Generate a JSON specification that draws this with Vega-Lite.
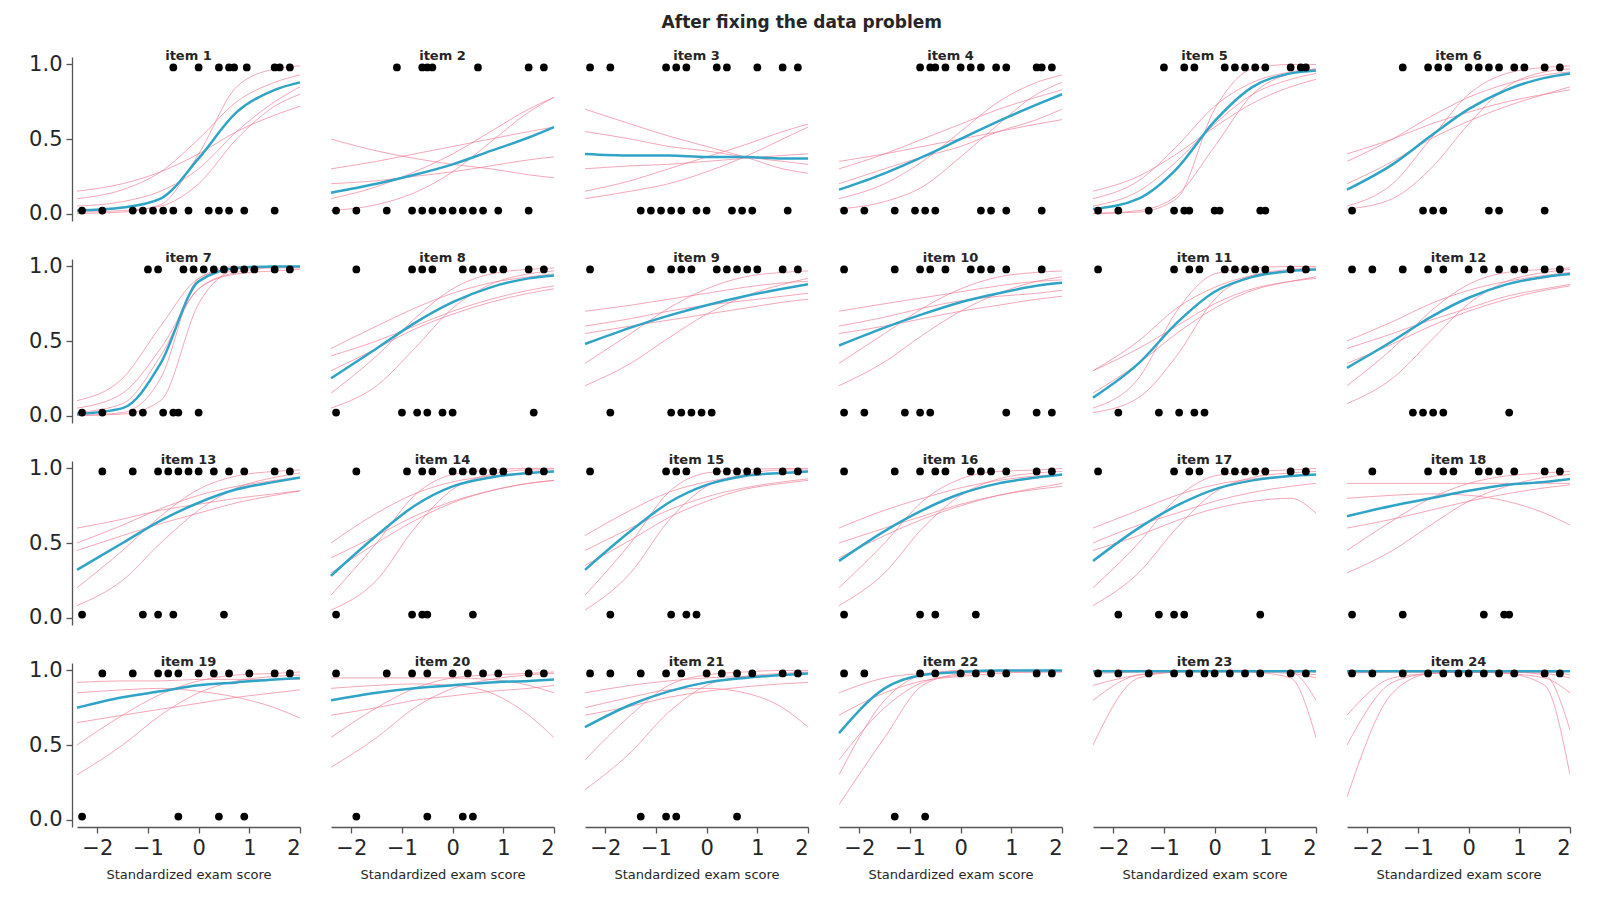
{
  "$schema": "https://vega.github.io/schema/vega-lite/v6.json",
  "title": {"text": "After fixing the data problem", "fontSize": 17, "fontWeight": "bold", "font": "DejaVu Sans", "color": "#262626", "anchor": "middle", "offset": 18},
  "background": "white",
  "padding": {"left": 28, "top": 14, "right": 5, "bottom": 5},
  "config": {
    "view": {"stroke": null},
    "font": "DejaVu Sans",
    "axis": {"grid": false, "domainColor": "#555", "domainWidth": 1.3, "tickColor": "#555", "tickWidth": 1.3, "labelFontSize": 21, "labelColor": "#262626", "tickSize": 6, "labelPadding": 4, "titleFontWeight": "normal", "titleFontSize": 13, "titleColor": "#262626", "titlePadding": 10},
    "header": {"labelFontSize": 13, "labelFontWeight": "bold", "labelColor": "#262626", "labelPadding": -6}
  },
  "data": {"values": [
    {"i":1,"x":-2.4,"m":0.02,"a":0.1,"b":0.01,"c":0.15,"d":0.0,"e":0.05},
    {"i":1,"x":-1.5,"m":0.04,"a":0.16,"b":0.02,"c":0.2,"d":0.01,"e":0.08},
    {"i":1,"x":-0.75,"m":0.1,"a":0.28,"b":0.05,"c":0.28,"d":0.06,"e":0.15},
    {"i":1,"x":0,"m":0.37,"a":0.5,"b":0.2,"c":0.4,"d":0.4,"e":0.3},
    {"i":1,"x":0.75,"m":0.68,"a":0.75,"b":0.5,"c":0.55,"d":0.85,"e":0.55},
    {"i":1,"x":1.5,"m":0.83,"a":0.88,"b":0.72,"c":0.66,"d":0.97,"e":0.75},
    {"i":1,"x":2,"m":0.88,"a":0.93,"b":0.8,"c":0.72,"d":0.99,"e":0.85},
    {"i":2,"x":-2.4,"m":0.14,"a":0.3,"b":0.02,"c":0.2,"d":0.1,"e":0.5},
    {"i":2,"x":-1.5,"m":0.2,"a":0.35,"b":0.06,"c":0.22,"d":0.18,"e":0.42},
    {"i":2,"x":-0.75,"m":0.26,"a":0.4,"b":0.14,"c":0.25,"d":0.28,"e":0.37},
    {"i":2,"x":0,"m":0.33,"a":0.45,"b":0.28,"c":0.28,"d":0.4,"e":0.33},
    {"i":2,"x":0.75,"m":0.42,"a":0.5,"b":0.48,"c":0.32,"d":0.55,"e":0.3},
    {"i":2,"x":1.5,"m":0.51,"a":0.55,"b":0.68,"c":0.36,"d":0.7,"e":0.26},
    {"i":2,"x":2,"m":0.58,"a":0.58,"b":0.78,"c":0.38,"d":0.78,"e":0.24},
    {"i":3,"x":-2.4,"m":0.4,"a":0.7,"b":0.15,"c":0.3,"d":0.55,"e":0.1},
    {"i":3,"x":-1.5,"m":0.39,"a":0.6,"b":0.22,"c":0.32,"d":0.5,"e":0.15},
    {"i":3,"x":-0.75,"m":0.39,"a":0.52,"b":0.3,"c":0.33,"d":0.45,"e":0.2},
    {"i":3,"x":0,"m":0.38,"a":0.45,"b":0.38,"c":0.35,"d":0.42,"e":0.28},
    {"i":3,"x":0.75,"m":0.38,"a":0.38,"b":0.46,"c":0.37,"d":0.38,"e":0.38},
    {"i":3,"x":1.5,"m":0.37,"a":0.3,"b":0.55,"c":0.39,"d":0.35,"e":0.5},
    {"i":3,"x":2,"m":0.37,"a":0.27,"b":0.6,"c":0.4,"d":0.33,"e":0.58},
    {"i":4,"x":-2.4,"m":0.16,"a":0.3,"b":0.03,"c":0.35,"d":0.1,"e":0.2},
    {"i":4,"x":-1.5,"m":0.27,"a":0.4,"b":0.08,"c":0.4,"d":0.2,"e":0.3},
    {"i":4,"x":-0.75,"m":0.38,"a":0.5,"b":0.18,"c":0.45,"d":0.35,"e":0.38},
    {"i":4,"x":0,"m":0.5,"a":0.6,"b":0.38,"c":0.5,"d":0.55,"e":0.45},
    {"i":4,"x":0.75,"m":0.62,"a":0.7,"b":0.6,"c":0.55,"d":0.75,"e":0.55},
    {"i":4,"x":1.5,"m":0.73,"a":0.78,"b":0.8,"c":0.6,"d":0.88,"e":0.63},
    {"i":4,"x":2,"m":0.8,"a":0.83,"b":0.88,"c":0.63,"d":0.93,"e":0.7},
    {"i":5,"x":-2.4,"m":0.03,"a":0.1,"b":0.0,"c":0.15,"d":0.0,"e":0.05},
    {"i":5,"x":-1.5,"m":0.1,"a":0.22,"b":0.02,"c":0.25,"d":0.01,"e":0.15},
    {"i":5,"x":-0.75,"m":0.3,"a":0.45,"b":0.12,"c":0.4,"d":0.1,"e":0.35},
    {"i":5,"x":0,"m":0.62,"a":0.72,"b":0.45,"c":0.58,"d":0.7,"e":0.6},
    {"i":5,"x":0.75,"m":0.85,"a":0.88,"b":0.8,"c":0.74,"d":0.97,"e":0.8},
    {"i":5,"x":1.5,"m":0.94,"a":0.95,"b":0.94,"c":0.85,"d":1,"e":0.9},
    {"i":5,"x":2,"m":0.96,"a":0.97,"b":0.97,"c":0.9,"d":1,"e":0.94},
    {"i":6,"x":-2.4,"m":0.16,"a":0.35,"b":0.03,"c":0.4,"d":0.05,"e":0.2},
    {"i":6,"x":-1.5,"m":0.33,"a":0.5,"b":0.1,"c":0.5,"d":0.2,"e":0.35},
    {"i":6,"x":-0.75,"m":0.52,"a":0.65,"b":0.3,"c":0.6,"d":0.5,"e":0.5},
    {"i":6,"x":0,"m":0.7,"a":0.78,"b":0.6,"c":0.68,"d":0.8,"e":0.62},
    {"i":6,"x":0.75,"m":0.83,"a":0.87,"b":0.85,"c":0.75,"d":0.94,"e":0.72},
    {"i":6,"x":1.5,"m":0.91,"a":0.93,"b":0.95,"c":0.8,"d":0.98,"e":0.8},
    {"i":6,"x":2,"m":0.94,"a":0.95,"b":0.97,"c":0.83,"d":0.99,"e":0.85},
    {"i":7,"x":-2.4,"m":0.01,"a":0.1,"b":0.0,"c":0.05,"d":0.0,"e":0.02},
    {"i":7,"x":-1.5,"m":0.05,"a":0.25,"b":0.01,"c":0.15,"d":0.02,"e":0.08},
    {"i":7,"x":-0.75,"m":0.35,"a":0.6,"b":0.1,"c":0.45,"d":0.25,"e":0.4},
    {"i":7,"x":0,"m":0.9,"a":0.92,"b":0.75,"c":0.85,"d":0.92,"e":0.85},
    {"i":7,"x":0.75,"m":0.99,"a":0.99,"b":0.98,"c":0.96,"d":1,"e":0.95},
    {"i":7,"x":1.5,"m":1,"a":1,"b":1,"c":0.99,"d":1,"e":0.97},
    {"i":7,"x":2,"m":1,"a":1,"b":1,"c":0.99,"d":1,"e":0.98},
    {"i":8,"x":-2.4,"m":0.25,"a":0.45,"b":0.05,"c":0.4,"d":0.15,"e":0.3},
    {"i":8,"x":-1.5,"m":0.45,"a":0.6,"b":0.2,"c":0.5,"d":0.4,"e":0.45},
    {"i":8,"x":-0.75,"m":0.62,"a":0.72,"b":0.45,"c":0.6,"d":0.65,"e":0.58},
    {"i":8,"x":0,"m":0.76,"a":0.82,"b":0.72,"c":0.7,"d":0.85,"e":0.68},
    {"i":8,"x":0.75,"m":0.86,"a":0.89,"b":0.88,"c":0.78,"d":0.95,"e":0.76},
    {"i":8,"x":1.5,"m":0.92,"a":0.93,"b":0.95,"c":0.84,"d":0.98,"e":0.82},
    {"i":8,"x":2,"m":0.94,"a":0.95,"b":0.97,"c":0.87,"d":0.99,"e":0.85},
    {"i":9,"x":-2.4,"m":0.48,"a":0.7,"b":0.2,"c":0.55,"d":0.35,"e":0.6},
    {"i":9,"x":-1.5,"m":0.59,"a":0.74,"b":0.35,"c":0.6,"d":0.55,"e":0.65},
    {"i":9,"x":-0.75,"m":0.67,"a":0.78,"b":0.52,"c":0.64,"d":0.72,"e":0.7},
    {"i":9,"x":0,"m":0.74,"a":0.82,"b":0.68,"c":0.68,"d":0.85,"e":0.74},
    {"i":9,"x":0.75,"m":0.8,"a":0.86,"b":0.8,"c":0.72,"d":0.93,"e":0.77},
    {"i":9,"x":1.5,"m":0.85,"a":0.89,"b":0.88,"c":0.76,"d":0.96,"e":0.8},
    {"i":9,"x":2,"m":0.88,"a":0.9,"b":0.92,"c":0.78,"d":0.97,"e":0.82},
    {"i":10,"x":-2.4,"m":0.47,"a":0.7,"b":0.2,"c":0.55,"d":0.35,"e":0.6},
    {"i":10,"x":-1.5,"m":0.59,"a":0.75,"b":0.36,"c":0.6,"d":0.55,"e":0.66},
    {"i":10,"x":-0.75,"m":0.68,"a":0.79,"b":0.54,"c":0.65,"d":0.72,"e":0.72},
    {"i":10,"x":0,"m":0.76,"a":0.83,"b":0.7,"c":0.7,"d":0.85,"e":0.77},
    {"i":10,"x":0.75,"m":0.82,"a":0.87,"b":0.82,"c":0.74,"d":0.93,"e":0.8},
    {"i":10,"x":1.5,"m":0.87,"a":0.9,"b":0.9,"c":0.78,"d":0.96,"e":0.82},
    {"i":10,"x":2,"m":0.89,"a":0.91,"b":0.93,"c":0.8,"d":0.97,"e":0.84},
    {"i":11,"x":-2.4,"m":0.12,"a":0.3,"b":0.02,"c":0.3,"d":0.05,"e":0.15},
    {"i":11,"x":-1.5,"m":0.35,"a":0.5,"b":0.12,"c":0.45,"d":0.25,"e":0.35},
    {"i":11,"x":-0.75,"m":0.62,"a":0.72,"b":0.4,"c":0.6,"d":0.7,"e":0.55},
    {"i":11,"x":0,"m":0.83,"a":0.86,"b":0.78,"c":0.75,"d":0.95,"e":0.72},
    {"i":11,"x":0.75,"m":0.93,"a":0.94,"b":0.94,"c":0.85,"d":0.99,"e":0.84},
    {"i":11,"x":1.5,"m":0.97,"a":0.97,"b":0.98,"c":0.9,"d":1,"e":0.9},
    {"i":11,"x":2,"m":0.98,"a":0.98,"b":0.99,"c":0.92,"d":1,"e":0.93},
    {"i":12,"x":-2.4,"m":0.32,"a":0.5,"b":0.08,"c":0.45,"d":0.2,"e":0.35},
    {"i":12,"x":-1.5,"m":0.5,"a":0.63,"b":0.25,"c":0.55,"d":0.45,"e":0.48},
    {"i":12,"x":-0.75,"m":0.66,"a":0.75,"b":0.5,"c":0.64,"d":0.7,"e":0.6},
    {"i":12,"x":0,"m":0.79,"a":0.84,"b":0.75,"c":0.72,"d":0.88,"e":0.7},
    {"i":12,"x":0.75,"m":0.88,"a":0.9,"b":0.9,"c":0.8,"d":0.96,"e":0.78},
    {"i":12,"x":1.5,"m":0.93,"a":0.94,"b":0.96,"c":0.85,"d":0.98,"e":0.84},
    {"i":12,"x":2,"m":0.95,"a":0.96,"b":0.98,"c":0.88,"d":0.99,"e":0.87},
    {"i":13,"x":-2.4,"m":0.32,"a":0.5,"b":0.08,"c":0.45,"d":0.2,"e":0.6},
    {"i":13,"x":-1.5,"m":0.5,"a":0.62,"b":0.25,"c":0.55,"d":0.45,"e":0.66},
    {"i":13,"x":-0.75,"m":0.65,"a":0.73,"b":0.5,"c":0.63,"d":0.68,"e":0.72},
    {"i":13,"x":0,"m":0.77,"a":0.82,"b":0.72,"c":0.7,"d":0.86,"e":0.76},
    {"i":13,"x":0.75,"m":0.86,"a":0.88,"b":0.87,"c":0.77,"d":0.95,"e":0.8},
    {"i":13,"x":1.5,"m":0.91,"a":0.92,"b":0.94,"c":0.82,"d":0.98,"e":0.83},
    {"i":13,"x":2,"m":0.94,"a":0.94,"b":0.97,"c":0.85,"d":0.99,"e":0.85},
    {"i":14,"x":-2.4,"m":0.28,"a":0.5,"b":0.05,"c":0.4,"d":0.15,"e":0.3},
    {"i":14,"x":-1.5,"m":0.55,"a":0.7,"b":0.25,"c":0.55,"d":0.5,"e":0.5},
    {"i":14,"x":-0.75,"m":0.75,"a":0.83,"b":0.6,"c":0.68,"d":0.82,"e":0.65},
    {"i":14,"x":0,"m":0.88,"a":0.91,"b":0.86,"c":0.78,"d":0.96,"e":0.77},
    {"i":14,"x":0.75,"m":0.94,"a":0.95,"b":0.96,"c":0.85,"d":0.99,"e":0.85},
    {"i":14,"x":1.5,"m":0.97,"a":0.97,"b":0.99,"c":0.9,"d":1,"e":0.9},
    {"i":14,"x":2,"m":0.98,"a":0.98,"b":0.99,"c":0.92,"d":1,"e":0.92},
    {"i":15,"x":-2.4,"m":0.32,"a":0.55,"b":0.05,"c":0.45,"d":0.15,"e":0.35},
    {"i":15,"x":-1.5,"m":0.58,"a":0.72,"b":0.3,"c":0.6,"d":0.5,"e":0.52},
    {"i":15,"x":-0.75,"m":0.77,"a":0.84,"b":0.65,"c":0.72,"d":0.84,"e":0.67},
    {"i":15,"x":0,"m":0.89,"a":0.91,"b":0.88,"c":0.81,"d":0.97,"e":0.78},
    {"i":15,"x":0.75,"m":0.95,"a":0.95,"b":0.96,"c":0.87,"d":0.99,"e":0.86},
    {"i":15,"x":1.5,"m":0.97,"a":0.97,"b":0.99,"c":0.91,"d":1,"e":0.9},
    {"i":15,"x":2,"m":0.98,"a":0.98,"b":0.99,"c":0.93,"d":1,"e":0.92},
    {"i":16,"x":-2.4,"m":0.38,"a":0.6,"b":0.08,"c":0.5,"d":0.2,"e":0.4},
    {"i":16,"x":-1.5,"m":0.58,"a":0.72,"b":0.3,"c":0.6,"d":0.5,"e":0.55},
    {"i":16,"x":-0.75,"m":0.72,"a":0.8,"b":0.6,"c":0.68,"d":0.78,"e":0.66},
    {"i":16,"x":0,"m":0.83,"a":0.87,"b":0.82,"c":0.76,"d":0.93,"e":0.75},
    {"i":16,"x":0.75,"m":0.9,"a":0.92,"b":0.93,"c":0.82,"d":0.98,"e":0.82},
    {"i":16,"x":1.5,"m":0.94,"a":0.95,"b":0.97,"c":0.86,"d":0.99,"e":0.87},
    {"i":16,"x":2,"m":0.96,"a":0.96,"b":0.98,"c":0.88,"d":1,"e":0.9},
    {"i":17,"x":-2.4,"m":0.38,"a":0.6,"b":0.08,"c":0.5,"d":0.2,"e":0.45},
    {"i":17,"x":-1.5,"m":0.6,"a":0.72,"b":0.3,"c":0.62,"d":0.5,"e":0.55},
    {"i":17,"x":-0.75,"m":0.75,"a":0.82,"b":0.6,"c":0.7,"d":0.8,"e":0.65},
    {"i":17,"x":0,"m":0.86,"a":0.89,"b":0.84,"c":0.78,"d":0.95,"e":0.73},
    {"i":17,"x":0.75,"m":0.92,"a":0.93,"b":0.94,"c":0.84,"d":0.98,"e":0.78},
    {"i":17,"x":1.5,"m":0.95,"a":0.95,"b":0.97,"c":0.88,"d":0.99,"e":0.8},
    {"i":17,"x":2,"m":0.96,"a":0.96,"b":0.98,"c":0.9,"d":1,"e":0.7},
    {"i":18,"x":-2.4,"m":0.68,"a":0.9,"b":0.3,"c":0.6,"d":0.45,"e":0.8},
    {"i":18,"x":-1.5,"m":0.75,"a":0.9,"b":0.45,"c":0.66,"d":0.65,"e":0.82},
    {"i":18,"x":-0.75,"m":0.8,"a":0.9,"b":0.62,"c":0.72,"d":0.8,"e":0.83},
    {"i":18,"x":0,"m":0.85,"a":0.9,"b":0.78,"c":0.78,"d":0.9,"e":0.82},
    {"i":18,"x":0.75,"m":0.89,"a":0.9,"b":0.88,"c":0.83,"d":0.95,"e":0.78},
    {"i":18,"x":1.5,"m":0.91,"a":0.9,"b":0.94,"c":0.87,"d":0.97,"e":0.7},
    {"i":18,"x":2,"m":0.93,"a":0.9,"b":0.96,"c":0.89,"d":0.98,"e":0.62},
    {"i":19,"x":-2.4,"m":0.75,"a":0.92,"b":0.3,"c":0.65,"d":0.5,"e":0.85},
    {"i":19,"x":-1.5,"m":0.82,"a":0.93,"b":0.5,"c":0.7,"d":0.7,"e":0.87},
    {"i":19,"x":-0.75,"m":0.86,"a":0.93,"b":0.7,"c":0.74,"d":0.84,"e":0.88},
    {"i":19,"x":0,"m":0.9,"a":0.94,"b":0.85,"c":0.78,"d":0.93,"e":0.86},
    {"i":19,"x":0.75,"m":0.92,"a":0.94,"b":0.93,"c":0.82,"d":0.97,"e":0.82},
    {"i":19,"x":1.5,"m":0.94,"a":0.94,"b":0.96,"c":0.85,"d":0.98,"e":0.75},
    {"i":19,"x":2,"m":0.95,"a":0.94,"b":0.97,"c":0.87,"d":0.99,"e":0.68},
    {"i":20,"x":-2.4,"m":0.8,"a":0.95,"b":0.35,"c":0.7,"d":0.55,"e":0.88},
    {"i":20,"x":-1.5,"m":0.85,"a":0.95,"b":0.55,"c":0.75,"d":0.75,"e":0.9},
    {"i":20,"x":-0.75,"m":0.88,"a":0.95,"b":0.75,"c":0.8,"d":0.88,"e":0.91},
    {"i":20,"x":0,"m":0.9,"a":0.95,"b":0.88,"c":0.83,"d":0.95,"e":0.9},
    {"i":20,"x":0.75,"m":0.92,"a":0.94,"b":0.94,"c":0.86,"d":0.97,"e":0.85},
    {"i":20,"x":1.5,"m":0.93,"a":0.9,"b":0.97,"c":0.88,"d":0.98,"e":0.7},
    {"i":20,"x":2,"m":0.94,"a":0.85,"b":0.98,"c":0.9,"d":0.99,"e":0.55},
    {"i":21,"x":-2.4,"m":0.62,"a":0.85,"b":0.2,"c":0.7,"d":0.4,"e":0.75},
    {"i":21,"x":-1.5,"m":0.77,"a":0.9,"b":0.45,"c":0.76,"d":0.7,"e":0.82},
    {"i":21,"x":-0.75,"m":0.86,"a":0.93,"b":0.72,"c":0.82,"d":0.9,"e":0.87},
    {"i":21,"x":0,"m":0.92,"a":0.95,"b":0.9,"c":0.86,"d":0.97,"e":0.88},
    {"i":21,"x":0.75,"m":0.95,"a":0.96,"b":0.96,"c":0.89,"d":0.99,"e":0.85},
    {"i":21,"x":1.5,"m":0.97,"a":0.97,"b":0.98,"c":0.91,"d":1,"e":0.75},
    {"i":21,"x":2,"m":0.98,"a":0.98,"b":0.99,"c":0.92,"d":1,"e":0.62},
    {"i":22,"x":-2.4,"m":0.58,"a":0.85,"b":0.1,"c":0.7,"d":0.3,"e":0.4},
    {"i":22,"x":-1.5,"m":0.88,"a":0.95,"b":0.55,"c":0.85,"d":0.8,"e":0.75},
    {"i":22,"x":-0.75,"m":0.97,"a":0.98,"b":0.9,"c":0.93,"d":0.97,"e":0.92},
    {"i":22,"x":0,"m":0.99,"a":0.99,"b":0.98,"c":0.96,"d":1,"e":0.97},
    {"i":22,"x":0.75,"m":1,"a":1,"b":1,"c":0.98,"d":1,"e":0.99},
    {"i":22,"x":1.5,"m":1,"a":1,"b":1,"c":0.99,"d":1,"e":0.99},
    {"i":22,"x":2,"m":1,"a":1,"b":1,"c":0.99,"d":1,"e":0.99},
    {"i":23,"x":-2.4,"m":0.995,"a":0.5,"b":0.98,"c":0.9,"d":1,"e":0.8},
    {"i":23,"x":-1.5,"m":0.995,"a":0.95,"b":0.99,"c":0.97,"d":1,"e":0.97},
    {"i":23,"x":-0.75,"m":0.995,"a":0.99,"b":1,"c":0.99,"d":1,"e":0.99},
    {"i":23,"x":0,"m":0.995,"a":1,"b":1,"c":0.99,"d":1,"e":1},
    {"i":23,"x":0.75,"m":0.995,"a":1,"b":0.99,"c":0.99,"d":1,"e":1},
    {"i":23,"x":1.5,"m":0.995,"a":0.99,"b":0.95,"c":0.98,"d":0.99,"e":1},
    {"i":23,"x":2,"m":0.995,"a":0.97,"b":0.55,"c":0.95,"d":0.8,"e":0.99},
    {"i":24,"x":-2.4,"m":0.995,"a":0.15,"b":0.98,"c":0.7,"d":0.99,"e":0.5},
    {"i":24,"x":-1.5,"m":0.995,"a":0.85,"b":0.99,"c":0.95,"d":0.99,"e":0.92},
    {"i":24,"x":-0.75,"m":0.995,"a":0.98,"b":0.99,"c":0.98,"d":0.99,"e":0.98},
    {"i":24,"x":0,"m":0.995,"a":0.99,"b":0.99,"c":0.99,"d":0.99,"e":0.99},
    {"i":24,"x":0.75,"m":0.995,"a":0.99,"b":0.98,"c":0.98,"d":0.99,"e":0.99},
    {"i":24,"x":1.5,"m":0.995,"a":0.98,"b":0.9,"c":0.95,"d":0.97,"e":0.99},
    {"i":24,"x":2,"m":0.995,"a":0.95,"b":0.3,"c":0.85,"d":0.6,"e":0.97},
    {"i":1,"x":-0.5,"p":0.98},{"i":1,"x":0,"p":0.98},{"i":1,"x":0.4,"p":0.98},{"i":1,"x":0.6,"p":0.98},{"i":1,"x":0.7,"p":0.98},{"i":1,"x":0.95,"p":0.98},{"i":1,"x":1.5,"p":0.98},{"i":1,"x":1.6,"p":0.98},{"i":1,"x":1.8,"p":0.98},
    {"i":1,"x":-2.3,"p":0.02},{"i":1,"x":-1.9,"p":0.02},{"i":1,"x":-1.3,"p":0.02},{"i":1,"x":-1.1,"p":0.02},{"i":1,"x":-0.9,"p":0.02},{"i":1,"x":-0.7,"p":0.02},{"i":1,"x":-0.5,"p":0.02},{"i":1,"x":-0.2,"p":0.02},{"i":1,"x":0.2,"p":0.02},{"i":1,"x":0.4,"p":0.02},{"i":1,"x":0.6,"p":0.02},{"i":1,"x":0.9,"p":0.02},{"i":1,"x":1.5,"p":0.02},
    {"i":2,"x":-1.1,"p":0.98},{"i":2,"x":-0.6,"p":0.98},{"i":2,"x":-0.5,"p":0.98},{"i":2,"x":-0.4,"p":0.98},{"i":2,"x":0.5,"p":0.98},{"i":2,"x":1.5,"p":0.98},{"i":2,"x":1.8,"p":0.98},
    {"i":2,"x":-2.3,"p":0.02},{"i":2,"x":-1.9,"p":0.02},{"i":2,"x":-1.3,"p":0.02},{"i":2,"x":-0.8,"p":0.02},{"i":2,"x":-0.6,"p":0.02},{"i":2,"x":-0.4,"p":0.02},{"i":2,"x":-0.2,"p":0.02},{"i":2,"x":0,"p":0.02},{"i":2,"x":0.2,"p":0.02},{"i":2,"x":0.4,"p":0.02},{"i":2,"x":0.6,"p":0.02},{"i":2,"x":0.9,"p":0.02},{"i":2,"x":1.5,"p":0.02},
    {"i":3,"x":-2.3,"p":0.98},{"i":3,"x":-1.9,"p":0.98},{"i":3,"x":-0.8,"p":0.98},{"i":3,"x":-0.6,"p":0.98},{"i":3,"x":-0.4,"p":0.98},{"i":3,"x":0.2,"p":0.98},{"i":3,"x":0.4,"p":0.98},{"i":3,"x":1,"p":0.98},{"i":3,"x":1.5,"p":0.98},{"i":3,"x":1.8,"p":0.98},
    {"i":3,"x":-1.3,"p":0.02},{"i":3,"x":-1.1,"p":0.02},{"i":3,"x":-0.9,"p":0.02},{"i":3,"x":-0.7,"p":0.02},{"i":3,"x":-0.5,"p":0.02},{"i":3,"x":-0.2,"p":0.02},{"i":3,"x":0,"p":0.02},{"i":3,"x":0.5,"p":0.02},{"i":3,"x":0.7,"p":0.02},{"i":3,"x":0.9,"p":0.02},{"i":3,"x":1.6,"p":0.02},
    {"i":4,"x":-0.8,"p":0.98},{"i":4,"x":-0.6,"p":0.98},{"i":4,"x":-0.5,"p":0.98},{"i":4,"x":-0.3,"p":0.98},{"i":4,"x":0,"p":0.98},{"i":4,"x":0.2,"p":0.98},{"i":4,"x":0.4,"p":0.98},{"i":4,"x":0.7,"p":0.98},{"i":4,"x":0.9,"p":0.98},{"i":4,"x":1.5,"p":0.98},{"i":4,"x":1.6,"p":0.98},{"i":4,"x":1.8,"p":0.98},
    {"i":4,"x":-2.3,"p":0.02},{"i":4,"x":-1.9,"p":0.02},{"i":4,"x":-1.3,"p":0.02},{"i":4,"x":-0.9,"p":0.02},{"i":4,"x":-0.7,"p":0.02},{"i":4,"x":-0.5,"p":0.02},{"i":4,"x":0.4,"p":0.02},{"i":4,"x":0.6,"p":0.02},{"i":4,"x":0.9,"p":0.02},{"i":4,"x":1.6,"p":0.02},
    {"i":5,"x":-1,"p":0.98},{"i":5,"x":-0.6,"p":0.98},{"i":5,"x":-0.4,"p":0.98},{"i":5,"x":0.2,"p":0.98},{"i":5,"x":0.4,"p":0.98},{"i":5,"x":0.6,"p":0.98},{"i":5,"x":0.8,"p":0.98},{"i":5,"x":1,"p":0.98},{"i":5,"x":1.5,"p":0.98},{"i":5,"x":1.7,"p":0.98},{"i":5,"x":1.8,"p":0.98},
    {"i":5,"x":-2.3,"p":0.02},{"i":5,"x":-1.9,"p":0.02},{"i":5,"x":-1.3,"p":0.02},{"i":5,"x":-0.8,"p":0.02},{"i":5,"x":-0.6,"p":0.02},{"i":5,"x":-0.5,"p":0.02},{"i":5,"x":0,"p":0.02},{"i":5,"x":0.1,"p":0.02},{"i":5,"x":0.9,"p":0.02},{"i":5,"x":1,"p":0.02},
    {"i":6,"x":-1.3,"p":0.98},{"i":6,"x":-0.8,"p":0.98},{"i":6,"x":-0.6,"p":0.98},{"i":6,"x":-0.4,"p":0.98},{"i":6,"x":0,"p":0.98},{"i":6,"x":0.2,"p":0.98},{"i":6,"x":0.4,"p":0.98},{"i":6,"x":0.6,"p":0.98},{"i":6,"x":0.9,"p":0.98},{"i":6,"x":1.1,"p":0.98},{"i":6,"x":1.5,"p":0.98},{"i":6,"x":1.8,"p":0.98},
    {"i":6,"x":-2.3,"p":0.02},{"i":6,"x":-0.9,"p":0.02},{"i":6,"x":-0.7,"p":0.02},{"i":6,"x":-0.5,"p":0.02},{"i":6,"x":0.4,"p":0.02},{"i":6,"x":0.6,"p":0.02},{"i":6,"x":1.5,"p":0.02},
    {"i":7,"x":-1,"p":0.98},{"i":7,"x":-0.8,"p":0.98},{"i":7,"x":-0.3,"p":0.98},{"i":7,"x":-0.1,"p":0.98},{"i":7,"x":0.1,"p":0.98},{"i":7,"x":0.3,"p":0.98},{"i":7,"x":0.5,"p":0.98},{"i":7,"x":0.7,"p":0.98},{"i":7,"x":0.9,"p":0.98},{"i":7,"x":1.1,"p":0.98},{"i":7,"x":1.5,"p":0.98},{"i":7,"x":1.8,"p":0.98},
    {"i":7,"x":-2.3,"p":0.02},{"i":7,"x":-1.9,"p":0.02},{"i":7,"x":-1.3,"p":0.02},{"i":7,"x":-1.1,"p":0.02},{"i":7,"x":-0.7,"p":0.02},{"i":7,"x":-0.5,"p":0.02},{"i":7,"x":-0.4,"p":0.02},{"i":7,"x":0,"p":0.02},
    {"i":8,"x":-1.9,"p":0.98},{"i":8,"x":-0.8,"p":0.98},{"i":8,"x":-0.6,"p":0.98},{"i":8,"x":-0.4,"p":0.98},{"i":8,"x":0.2,"p":0.98},{"i":8,"x":0.4,"p":0.98},{"i":8,"x":0.6,"p":0.98},{"i":8,"x":0.8,"p":0.98},{"i":8,"x":1,"p":0.98},{"i":8,"x":1.5,"p":0.98},{"i":8,"x":1.8,"p":0.98},
    {"i":8,"x":-2.3,"p":0.02},{"i":8,"x":-1,"p":0.02},{"i":8,"x":-0.7,"p":0.02},{"i":8,"x":-0.5,"p":0.02},{"i":8,"x":-0.2,"p":0.02},{"i":8,"x":0,"p":0.02},{"i":8,"x":1.6,"p":0.02},
    {"i":9,"x":-2.3,"p":0.98},{"i":9,"x":-1.1,"p":0.98},{"i":9,"x":-0.7,"p":0.98},{"i":9,"x":-0.5,"p":0.98},{"i":9,"x":-0.3,"p":0.98},{"i":9,"x":0.2,"p":0.98},{"i":9,"x":0.4,"p":0.98},{"i":9,"x":0.6,"p":0.98},{"i":9,"x":0.8,"p":0.98},{"i":9,"x":1,"p":0.98},{"i":9,"x":1.5,"p":0.98},{"i":9,"x":1.8,"p":0.98},
    {"i":9,"x":-1.9,"p":0.02},{"i":9,"x":-0.7,"p":0.02},{"i":9,"x":-0.5,"p":0.02},{"i":9,"x":-0.3,"p":0.02},{"i":9,"x":-0.1,"p":0.02},{"i":9,"x":0.1,"p":0.02},
    {"i":10,"x":-2.3,"p":0.98},{"i":10,"x":-1.3,"p":0.98},{"i":10,"x":-0.8,"p":0.98},{"i":10,"x":-0.6,"p":0.98},{"i":10,"x":-0.3,"p":0.98},{"i":10,"x":0.2,"p":0.98},{"i":10,"x":0.4,"p":0.98},{"i":10,"x":0.6,"p":0.98},{"i":10,"x":0.9,"p":0.98},{"i":10,"x":1.6,"p":0.98},
    {"i":10,"x":-2.3,"p":0.02},{"i":10,"x":-1.9,"p":0.02},{"i":10,"x":-1.1,"p":0.02},{"i":10,"x":-0.8,"p":0.02},{"i":10,"x":-0.6,"p":0.02},{"i":10,"x":0.9,"p":0.02},{"i":10,"x":1.5,"p":0.02},{"i":10,"x":1.8,"p":0.02},
    {"i":11,"x":-2.3,"p":0.98},{"i":11,"x":-0.8,"p":0.98},{"i":11,"x":-0.5,"p":0.98},{"i":11,"x":-0.3,"p":0.98},{"i":11,"x":0.2,"p":0.98},{"i":11,"x":0.4,"p":0.98},{"i":11,"x":0.6,"p":0.98},{"i":11,"x":0.8,"p":0.98},{"i":11,"x":1,"p":0.98},{"i":11,"x":1.5,"p":0.98},{"i":11,"x":1.8,"p":0.98},
    {"i":11,"x":-1.9,"p":0.02},{"i":11,"x":-1.1,"p":0.02},{"i":11,"x":-0.7,"p":0.02},{"i":11,"x":-0.4,"p":0.02},{"i":11,"x":-0.2,"p":0.02},
    {"i":12,"x":-2.3,"p":0.98},{"i":12,"x":-1.9,"p":0.98},{"i":12,"x":-1.3,"p":0.98},{"i":12,"x":-0.8,"p":0.98},{"i":12,"x":-0.5,"p":0.98},{"i":12,"x":0,"p":0.98},{"i":12,"x":0.3,"p":0.98},{"i":12,"x":0.6,"p":0.98},{"i":12,"x":0.9,"p":0.98},{"i":12,"x":1.1,"p":0.98},{"i":12,"x":1.5,"p":0.98},{"i":12,"x":1.8,"p":0.98},
    {"i":12,"x":-1.1,"p":0.02},{"i":12,"x":-0.9,"p":0.02},{"i":12,"x":-0.7,"p":0.02},{"i":12,"x":-0.5,"p":0.02},{"i":12,"x":0.8,"p":0.02},
    {"i":13,"x":-1.9,"p":0.98},{"i":13,"x":-1.3,"p":0.98},{"i":13,"x":-0.8,"p":0.98},{"i":13,"x":-0.6,"p":0.98},{"i":13,"x":-0.4,"p":0.98},{"i":13,"x":-0.2,"p":0.98},{"i":13,"x":0,"p":0.98},{"i":13,"x":0.3,"p":0.98},{"i":13,"x":0.6,"p":0.98},{"i":13,"x":0.9,"p":0.98},{"i":13,"x":1.5,"p":0.98},{"i":13,"x":1.8,"p":0.98},
    {"i":13,"x":-2.3,"p":0.02},{"i":13,"x":-1.1,"p":0.02},{"i":13,"x":-0.8,"p":0.02},{"i":13,"x":-0.5,"p":0.02},{"i":13,"x":0.5,"p":0.02},
    {"i":14,"x":-1.9,"p":0.98},{"i":14,"x":-0.9,"p":0.98},{"i":14,"x":-0.6,"p":0.98},{"i":14,"x":-0.4,"p":0.98},{"i":14,"x":0,"p":0.98},{"i":14,"x":0.2,"p":0.98},{"i":14,"x":0.4,"p":0.98},{"i":14,"x":0.6,"p":0.98},{"i":14,"x":0.8,"p":0.98},{"i":14,"x":1,"p":0.98},{"i":14,"x":1.5,"p":0.98},{"i":14,"x":1.8,"p":0.98},
    {"i":14,"x":-2.3,"p":0.02},{"i":14,"x":-0.8,"p":0.02},{"i":14,"x":-0.6,"p":0.02},{"i":14,"x":-0.5,"p":0.02},{"i":14,"x":0.4,"p":0.02},
    {"i":15,"x":-2.3,"p":0.98},{"i":15,"x":-0.8,"p":0.98},{"i":15,"x":-0.6,"p":0.98},{"i":15,"x":-0.4,"p":0.98},{"i":15,"x":0.2,"p":0.98},{"i":15,"x":0.4,"p":0.98},{"i":15,"x":0.6,"p":0.98},{"i":15,"x":0.8,"p":0.98},{"i":15,"x":1,"p":0.98},{"i":15,"x":1.5,"p":0.98},{"i":15,"x":1.8,"p":0.98},
    {"i":15,"x":-1.9,"p":0.02},{"i":15,"x":-0.7,"p":0.02},{"i":15,"x":-0.4,"p":0.02},{"i":15,"x":-0.2,"p":0.02},
    {"i":16,"x":-2.3,"p":0.98},{"i":16,"x":-1.3,"p":0.98},{"i":16,"x":-0.8,"p":0.98},{"i":16,"x":-0.5,"p":0.98},{"i":16,"x":-0.3,"p":0.98},{"i":16,"x":0.2,"p":0.98},{"i":16,"x":0.4,"p":0.98},{"i":16,"x":0.6,"p":0.98},{"i":16,"x":0.9,"p":0.98},{"i":16,"x":1.5,"p":0.98},{"i":16,"x":1.8,"p":0.98},
    {"i":16,"x":-2.3,"p":0.02},{"i":16,"x":-0.8,"p":0.02},{"i":16,"x":-0.5,"p":0.02},{"i":16,"x":0.3,"p":0.02},
    {"i":17,"x":-2.3,"p":0.98},{"i":17,"x":-0.8,"p":0.98},{"i":17,"x":-0.5,"p":0.98},{"i":17,"x":-0.3,"p":0.98},{"i":17,"x":0.2,"p":0.98},{"i":17,"x":0.4,"p":0.98},{"i":17,"x":0.6,"p":0.98},{"i":17,"x":0.8,"p":0.98},{"i":17,"x":1,"p":0.98},{"i":17,"x":1.5,"p":0.98},{"i":17,"x":1.8,"p":0.98},
    {"i":17,"x":-1.9,"p":0.02},{"i":17,"x":-1.1,"p":0.02},{"i":17,"x":-0.8,"p":0.02},{"i":17,"x":-0.6,"p":0.02},{"i":17,"x":0.9,"p":0.02},
    {"i":18,"x":-1.9,"p":0.98},{"i":18,"x":-0.8,"p":0.98},{"i":18,"x":-0.5,"p":0.98},{"i":18,"x":-0.3,"p":0.98},{"i":18,"x":0.2,"p":0.98},{"i":18,"x":0.4,"p":0.98},{"i":18,"x":0.6,"p":0.98},{"i":18,"x":0.9,"p":0.98},{"i":18,"x":1.5,"p":0.98},{"i":18,"x":1.8,"p":0.98},
    {"i":18,"x":-2.3,"p":0.02},{"i":18,"x":-1.3,"p":0.02},{"i":18,"x":0.3,"p":0.02},{"i":18,"x":0.7,"p":0.02},{"i":18,"x":0.8,"p":0.02},
    {"i":19,"x":-1.9,"p":0.98},{"i":19,"x":-1.3,"p":0.98},{"i":19,"x":-0.8,"p":0.98},{"i":19,"x":-0.6,"p":0.98},{"i":19,"x":-0.4,"p":0.98},{"i":19,"x":0,"p":0.98},{"i":19,"x":0.3,"p":0.98},{"i":19,"x":0.6,"p":0.98},{"i":19,"x":1,"p":0.98},{"i":19,"x":1.5,"p":0.98},{"i":19,"x":1.8,"p":0.98},
    {"i":19,"x":-2.3,"p":0.02},{"i":19,"x":-0.4,"p":0.02},{"i":19,"x":0.4,"p":0.02},{"i":19,"x":0.9,"p":0.02},
    {"i":20,"x":-2.3,"p":0.98},{"i":20,"x":-1.3,"p":0.98},{"i":20,"x":-0.8,"p":0.98},{"i":20,"x":-0.5,"p":0.98},{"i":20,"x":0,"p":0.98},{"i":20,"x":0.3,"p":0.98},{"i":20,"x":0.6,"p":0.98},{"i":20,"x":0.9,"p":0.98},{"i":20,"x":1.5,"p":0.98},{"i":20,"x":1.8,"p":0.98},
    {"i":20,"x":-1.9,"p":0.02},{"i":20,"x":-0.5,"p":0.02},{"i":20,"x":0.2,"p":0.02},{"i":20,"x":0.4,"p":0.02},
    {"i":21,"x":-2.3,"p":0.98},{"i":21,"x":-1.9,"p":0.98},{"i":21,"x":-1.3,"p":0.98},{"i":21,"x":-0.8,"p":0.98},{"i":21,"x":-0.5,"p":0.98},{"i":21,"x":0,"p":0.98},{"i":21,"x":0.3,"p":0.98},{"i":21,"x":0.6,"p":0.98},{"i":21,"x":0.9,"p":0.98},{"i":21,"x":1.5,"p":0.98},{"i":21,"x":1.8,"p":0.98},
    {"i":21,"x":-1.3,"p":0.02},{"i":21,"x":-0.8,"p":0.02},{"i":21,"x":-0.6,"p":0.02},{"i":21,"x":0.6,"p":0.02},
    {"i":22,"x":-2.3,"p":0.98},{"i":22,"x":-1.9,"p":0.98},{"i":22,"x":-0.8,"p":0.98},{"i":22,"x":-0.5,"p":0.98},{"i":22,"x":0,"p":0.98},{"i":22,"x":0.3,"p":0.98},{"i":22,"x":0.6,"p":0.98},{"i":22,"x":0.9,"p":0.98},{"i":22,"x":1.5,"p":0.98},{"i":22,"x":1.8,"p":0.98},
    {"i":22,"x":-1.3,"p":0.02},{"i":22,"x":-0.7,"p":0.02},
    {"i":23,"x":-2.3,"p":0.98},{"i":23,"x":-1.9,"p":0.98},{"i":23,"x":-1.3,"p":0.98},{"i":23,"x":-0.8,"p":0.98},{"i":23,"x":-0.5,"p":0.98},{"i":23,"x":-0.2,"p":0.98},{"i":23,"x":0,"p":0.98},{"i":23,"x":0.3,"p":0.98},{"i":23,"x":0.6,"p":0.98},{"i":23,"x":0.9,"p":0.98},{"i":23,"x":1.5,"p":0.98},{"i":23,"x":1.8,"p":0.98},
    {"i":24,"x":-2.3,"p":0.98},{"i":24,"x":-1.9,"p":0.98},{"i":24,"x":-1.3,"p":0.98},{"i":24,"x":-0.8,"p":0.98},{"i":24,"x":-0.5,"p":0.98},{"i":24,"x":-0.2,"p":0.98},{"i":24,"x":0,"p":0.98},{"i":24,"x":0.3,"p":0.98},{"i":24,"x":0.6,"p":0.98},{"i":24,"x":0.9,"p":0.98},{"i":24,"x":1.5,"p":0.98},{"i":24,"x":1.8,"p":0.98}
  ]},
  "facet": {"field": "i", "type": "ordinal", "title": null, "header": {"labelExpr": "'item ' + datum.value", "labelOrient": "top"}},
  "columns": 6,
  "spacing": {"column": 21, "row": 31},
  "spec": {
    "width": 223,
    "height": 164,
    "layer": [
      {
        "transform": [{"filter": "datum.m != null"}, {"fold": ["a", "b", "c", "d", "e"]}],
        "mark": {"type": "line", "interpolate": "monotone", "color": "#f07c93", "strokeWidth": 0.9, "opacity": 0.75, "clip": true},
        "encoding": {
          "x": {"field": "x", "type": "quantitative"},
          "y": {"field": "value", "type": "quantitative"},
          "detail": {"field": "key"}
        }
      },
      {
        "transform": [{"filter": "datum.m != null"}],
        "mark": {"type": "line", "interpolate": "monotone", "color": "#2fa4c6", "strokeWidth": 2.5},
        "encoding": {
          "x": {"field": "x", "type": "quantitative"},
          "y": {"field": "m", "type": "quantitative"}
        }
      },
      {
        "transform": [{"filter": "datum.p != null"}],
        "mark": {"type": "point", "filled": true, "color": "black", "size": 60, "opacity": 1},
        "encoding": {
          "x": {"field": "x", "type": "quantitative", "scale": {"domain": [-2.4, 2], "nice": false, "zero": false}, "axis": {"values": [-2, -1, 0, 1, 2], "title": "Standardized exam score"}},
          "y": {"field": "p", "type": "quantitative", "scale": {"domain": [-0.05, 1.05], "nice": false}, "axis": {"values": [0, 0.5, 1], "format": ".1f", "title": null}}
        }
      }
    ]
  }
}
